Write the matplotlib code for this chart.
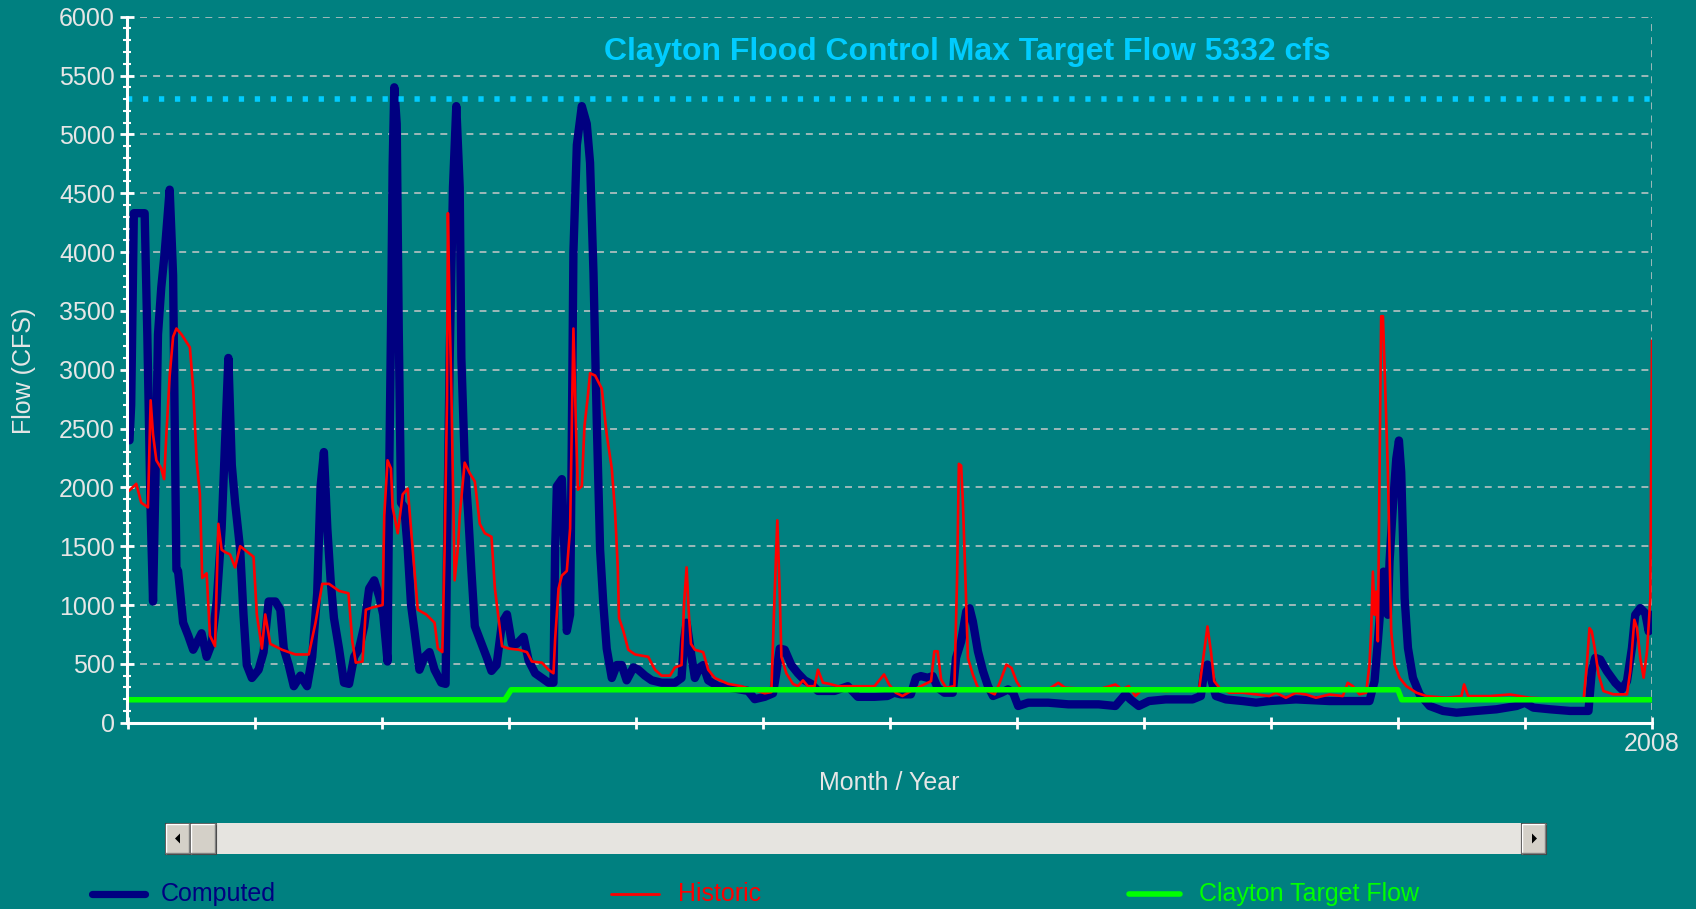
import matplotlib
matplotlib.use("Agg")
import matplotlib.pyplot as plt
from matplotlib.patches import Rectangle, Polygon
from matplotlib.ticker import MultipleLocator, FixedLocator

plt.rcParams['font.family'] = ['Liberation Sans', 'DejaVu Sans']
plt.rcParams['lines.scale_dashes'] = False

START_YEAR = 1996
MAX_TARGET = 5300   # dotted flood-control line as drawn

# Computed flow (years after START_YEAR, cfs)
comp_t = [
    0.016, 0.029, 0.050, 0.135, 0.156, 0.182, 0.201, 0.219, 0.240, 0.266,
    0.293, 0.332, 0.359, 0.372, 0.385, 0.398, 0.438, 0.478, 0.517, 0.583,
    0.623, 0.662, 0.702, 0.741, 0.794, 0.821, 0.847, 0.887, 0.913, 0.939,
    0.979, 1.032, 1.071, 1.111, 1.164, 1.203, 1.230, 1.269, 1.309, 1.361,
    1.414, 1.454, 1.493, 1.520, 1.546, 1.573, 1.599, 1.625, 1.665, 1.704,
    1.744, 1.784, 1.823, 1.863, 1.902, 1.942, 1.982, 2.013, 2.047, 2.061,
    2.074, 2.087, 2.100, 2.119, 2.135, 2.153, 2.179, 2.206, 2.232, 2.259,
    2.298, 2.338, 2.377, 2.417, 2.470, 2.504, 2.515, 2.536, 2.562, 2.588,
    2.615, 2.628, 2.654, 2.681, 2.707, 2.734, 2.773, 2.826, 2.865, 2.905,
    2.948, 2.987, 3.026, 3.065, 3.118, 3.157, 3.209, 3.262, 3.314, 3.353,
    3.366, 3.380, 3.419, 3.445, 3.458, 3.484, 3.497, 3.510, 3.537, 3.576,
    3.615, 3.641, 3.668, 3.694, 3.720, 3.746, 3.772, 3.812, 3.851, 3.890,
    3.929, 3.982, 4.021, 4.073, 4.126, 4.204, 4.309, 4.361, 4.382, 4.401,
    4.440, 4.466, 4.505, 4.531, 4.571, 4.649, 4.780, 4.885, 4.937, 5.016,
    5.081, 5.107, 5.134, 5.173, 5.225, 5.277, 5.330, 5.382, 5.435, 5.565,
    5.670, 5.749, 5.880,
    5.982, 6.034, 6.087, 6.166, 6.206, 6.245, 6.298, 6.338, 6.377, 6.430,
    6.496, 6.522, 6.562, 6.602, 6.628, 6.654, 6.694, 6.734, 6.773, 6.813,
    6.879, 6.931, 6.971, 7.011, 7.090, 7.248, 7.406, 7.644, 7.776, 7.855,
    7.894, 7.960, 8.040, 8.172, 8.383, 8.449, 8.475, 8.501, 8.541, 8.567,
    8.646, 8.778, 8.884,
    8.987, 9.197, 9.461, 9.776, 9.816, 9.842, 9.868, 9.887, 9.908, 9.921,
    9.934, 9.961, 9.987, 10.008, 10.026, 10.039, 10.053, 10.079, 10.118, 10.171,
    10.250, 10.355, 10.461, 10.618, 10.776, 10.934, 11.000, 11.066, 11.197, 11.355,
    11.500, 11.526, 11.553, 11.592, 11.645, 11.711, 11.763, 11.803, 11.842, 11.868,
    11.908, 11.947, 11.974, 12.000,
]
comp_cfs = [
    2400, 2700, 4330, 4330, 3300, 1800, 1030, 2000, 3300, 3700,
    4000, 4530, 3800, 2500, 1300, 1290, 850, 740, 620, 760,
    560, 670, 1030, 1650, 3100, 2190, 1870, 1470, 920, 490,
    380, 450, 600, 1030, 1030, 960, 630, 490, 310, 400,
    310, 560, 1100, 2010, 2300, 1650, 1210, 890, 630, 340,
    330, 560, 630, 820, 1140, 1210, 1070, 920, 520, 2190,
    3350, 4730, 5400, 5090, 3350, 1870, 1830, 1470, 1000, 780,
    450, 560, 600, 450, 340, 330, 1470, 3100, 4550, 5240,
    4550, 3100, 2230, 1790, 1290, 820, 710, 560, 440, 490,
    850, 920, 670, 670, 730, 530, 420, 380, 340, 340,
    1470, 2010, 2070, 1290, 780, 920, 2370, 4000, 4910, 5240,
    5090, 4760, 3820, 2550, 1470, 1000, 630, 380, 490, 490,
    360, 470, 450, 400, 360, 340, 340, 380, 710, 850,
    560, 380, 470, 490, 360, 310, 290, 270, 200, 220,
    250, 420, 630, 620, 490, 420, 360, 330, 270, 270,
    310, 220, 220,
    227, 255, 241, 241, 382, 396, 382, 396, 297, 255,
    255, 551, 691, 945, 973, 861, 607, 438, 311, 227,
    255, 283, 255, 142, 170, 170, 156, 156, 142, 241,
    198, 142, 184, 198, 198, 227, 438, 494, 325, 227,
    198, 184, 170,
    184, 198, 184, 184, 353, 692, 1058, 1284, 1199, 917,
    1369, 1848, 2243, 2398, 2130, 1622, 1058, 635, 382, 241,
    142, 100, 85, 100, 114, 142, 170, 128, 114, 100,
    100, 438, 551, 537, 438, 339, 283, 353, 635, 917,
    974, 931, 776, 917,
]

# Historic flow
hist_t = [
    0.016, 0.069, 0.108, 0.161, 0.182, 0.201, 0.227, 0.266, 0.288, 0.306,
    0.332, 0.359, 0.385, 0.425, 0.491, 0.517, 0.544, 0.570, 0.588, 0.623,
    0.649, 0.689, 0.715, 0.741, 0.768, 0.807, 0.847, 0.887, 0.992, 1.018,
    1.058, 1.084, 1.124, 1.216, 1.322, 1.427, 1.480, 1.533, 1.586, 1.665,
    1.739, 1.770, 1.797, 1.850, 1.876, 1.929, 2.008, 2.021, 2.047, 2.074,
    2.087, 2.127, 2.166, 2.206, 2.245, 2.285, 2.351, 2.417, 2.443, 2.478,
    2.496, 2.515, 2.522, 2.536, 2.549, 2.575, 2.602, 2.615, 2.654, 2.694,
    2.734, 2.773, 2.813, 2.865, 2.892,
    2.948, 3.000, 3.079, 3.144, 3.183, 3.262, 3.314, 3.353, 3.366, 3.393,
    3.419, 3.458, 3.484, 3.497, 3.510, 3.529, 3.545, 3.576, 3.597, 3.623,
    3.641, 3.681, 3.733, 3.772, 3.812, 3.838, 3.859, 3.869, 3.903, 3.942,
    3.995, 4.099, 4.152, 4.204, 4.270, 4.309, 4.361, 4.382, 4.401, 4.419,
    4.435, 4.466, 4.531, 4.571, 4.623, 4.728, 4.832, 5.016, 5.068, 5.094,
    5.115, 5.134, 5.147, 5.186, 5.238, 5.277, 5.317, 5.356, 5.408, 5.435,
    5.474, 5.526, 5.592, 5.880,
    5.955, 5.995, 6.047, 6.100, 6.166, 6.245, 6.325, 6.351, 6.377, 6.404,
    6.443, 6.509, 6.530, 6.544, 6.562, 6.575, 6.594, 6.615, 6.654, 6.694,
    6.747, 6.826, 6.865, 6.918, 6.958, 6.997, 7.037, 7.248, 7.327, 7.380,
    7.644, 7.776, 7.828, 7.881, 7.934, 7.987, 8.172, 8.435, 8.475, 8.501,
    8.528, 8.554, 8.594, 8.673, 8.778, 8.884,
    8.987, 9.039, 9.118, 9.197, 9.276, 9.355, 9.461, 9.566, 9.605, 9.645,
    9.697, 9.750, 9.776, 9.789, 9.803, 9.816, 9.829, 9.842, 9.855, 9.868,
    9.882, 9.895, 9.908, 9.921, 9.934, 9.947, 9.974, 10.013, 10.066, 10.145,
    10.224, 10.382, 10.500, 10.521, 10.553, 10.724, 10.882, 11.039, 11.303, 11.461,
    11.487, 11.508, 11.526, 11.553, 11.579, 11.618, 11.697, 11.803, 11.829, 11.861,
    11.882, 11.908, 11.934, 11.961, 11.987, 11.992, 12.000,
]
hist_cfs = [
    1975, 2030, 1870, 1830, 2740, 2450, 2230, 2160, 2070, 2450,
    2950, 3280, 3350, 3300, 3190, 2840, 2230, 1940, 1230, 1270,
    740, 650, 1690, 1470, 1450, 1430, 1320, 1500, 1410, 920,
    630, 920, 670, 620, 580, 580, 850, 1180, 1180, 1120,
    1100, 690, 510, 520, 960, 980, 1000, 1760, 2230, 2160,
    1830, 1610, 1940, 1990, 1470, 960, 920, 850, 630, 600,
    1470, 2740, 4330, 3460, 2840, 1210, 1500, 1760, 2210, 2120,
    2050, 1690, 1610, 1580, 1140,
    650, 630, 620, 600, 520, 510, 450, 420, 710, 1140,
    1250, 1290, 1650, 2480, 3350, 2550, 1980, 2010, 2520, 2770,
    2970, 2950, 2840, 2450, 2160, 1790, 1320, 890, 780, 620,
    580, 560, 450, 400, 400, 470, 490, 1030, 1320, 920,
    670, 620, 600, 450, 380, 330, 310, 250, 260, 1100,
    1720, 1100, 560, 420, 330, 310, 360, 310, 310, 450,
    340, 330, 310, 310,
    410, 325, 255, 227, 269, 311, 353, 607, 607, 368,
    297, 311, 1227, 2200, 2185, 1889, 1283, 551, 410, 297,
    283, 241, 339, 494, 466, 353, 283, 283, 339, 297,
    283, 325, 283, 311, 227, 283, 269, 283, 607, 818,
    607, 353, 297, 255, 255, 241,
    226, 255, 212, 255, 240, 212, 240, 226, 339, 311,
    241, 255, 494, 776, 1284, 917, 1115, 692, 2074, 3455,
    3455, 3004, 2581, 2130, 1453, 776, 494, 382, 311, 255,
    226, 212, 226, 325, 226, 226, 240, 212, 198, 184,
    494, 804, 776, 607, 410, 269, 241, 241, 438, 875,
    804, 551, 382, 607, 1058, 1989, 3244,
]

# Clayton target flow
target_t = [0.0, 2.97, 3.02, 10.0, 10.03, 12.0]
target_cfs = [195, 195, 280, 280, 195, 195]

assert len(comp_t) == len(comp_cfs)
assert len(hist_t) == len(hist_cfs)

BG = '#008080'
NAVY = '#000080'
RED = '#FF0000'
GREEN = '#00FF00'
SKY = '#00CCFF'
TXT = '#E6E6E6'

W, H = 1696, 909
fig = plt.figure(figsize=(W / 100, H / 100), dpi=100, facecolor=BG)
ax = fig.add_axes([127.5 / W, 1 - 722.7 / H, (1652 - 127.5) / W, (722.7 - 16.7) / H])
ax.set_facecolor(BG)

cx = [START_YEAR + t for t in comp_t]
hx = [START_YEAR + t for t in hist_t]
tx = [START_YEAR + t for t in target_t]

ax.plot(cx, comp_cfs, color=NAVY, lw=6.0, solid_joinstyle='round',
        solid_capstyle='round', zorder=3)
ax.plot(hx, hist_cfs, color=RED, lw=1.9, zorder=4)
ax.plot(tx, target_cfs, color=GREEN, lw=4.0, zorder=5)
ax.axhline(MAX_TARGET, color=SKY, lw=4.0, linestyle=(0, (3.8, 7.7)), zorder=6)

ax.set_xlim(START_YEAR, START_YEAR + 12)
ax.set_ylim(0, 6000)

ax.yaxis.set_major_locator(MultipleLocator(500))
ax.yaxis.set_minor_locator(MultipleLocator(100))
years = list(range(START_YEAR, START_YEAR + 13))
ax.xaxis.set_major_locator(FixedLocator(years))
ax.set_xticklabels(['' for y in years[:-1]] + [str(years[-1])])

ax.grid(axis='y', which='major', color='#C8C8C8', lw=1.1, linestyle=(0, (5, 4.4)))
ax.axvline(START_YEAR + 12, color='#C8C8C8', lw=1.1, linestyle=(0, (5, 4.4)))
ax.set_axisbelow(True)

for s in ('top', 'right'):
    ax.spines[s].set_visible(False)
for s in ('left', 'bottom'):
    ax.spines[s].set_color('white')
    ax.spines[s].set_linewidth(2.2)
    ax.spines[s].set_zorder(7)

ax.tick_params(axis='y', which='major', direction='inout', length=10, width=2,
               color='white', labelcolor=TXT, labelsize=18, pad=4)
ax.tick_params(axis='y', which='minor', direction='inout', length=6, width=1.5,
               color='white')
ax.tick_params(axis='x', which='major', direction='inout', length=8, width=2,
               color='white', labelcolor=TXT, labelsize=18, pad=3)

fig.text(967 / W, 1 - 52 / H, 'Clayton Flood Control Max Target Flow 5332 cfs',
         color=SKY, fontsize=23, fontweight='bold', ha='center', va='center')
fig.text(24 / W, 1 - 371 / H, 'Flow (CFS)', color=TXT, fontsize=18,
         rotation=90, ha='center', va='center')
fig.text(889 / W, 1 - 783 / H, 'Month / Year', color=TXT, fontsize=18,
         ha='center', va='center')

# overlay in pixel coordinates for the scroll bar and the legend
ui = fig.add_axes([0, 0, 1, 1])
ui.set_xlim(0, W)
ui.set_ylim(H, 0)
ui.axis('off')
ui.patch.set_visible(False)

y0, y1 = 823, 854
ui.add_patch(Rectangle((216, y0), 1521 - 216, y1 - y0, facecolor='#E6E4E0',
                       edgecolor='none'))


def button(x0, x1):
    ui.add_patch(Rectangle((x0, y0), x1 - x0, y1 - y0, facecolor='#D4D0C8',
                           edgecolor='#404040', lw=0.8))
    ui.plot([x0 + 1, x0 + 1, x1 - 1], [y1 - 1, y0 + 1, y0 + 1], color='white', lw=1)
    ui.plot([x0 + 1, x1 - 1.5, x1 - 1.5], [y1 - 1.5, y1 - 1.5, y0 + 1],
            color='#808080', lw=1)


button(165, 190)
button(190, 216)
button(1521, 1546)
ym = (y0 + y1) / 2
ui.add_patch(Polygon([(175, ym), (180, ym - 5), (180, ym + 5)], closed=True,
                     facecolor='black', edgecolor='none'))
ui.add_patch(Polygon([(1537, ym), (1532, ym - 5), (1532, ym + 5)], closed=True,
                     facecolor='black', edgecolor='none'))

ly = 894
legend = [
    ('Computed', NAVY, 5.2, 92, 145, 161),
    ('Historic', RED, 2.0, 611, 659, 678),
    ('Clayton Target Flow', GREEN, 4.0, 1129, 1180, 1199),
]
for label, col, lw, xa, xb, xt in legend:
    ui.plot([xa, xb], [ly, ly], color=col, lw=lw, solid_capstyle='round')
    ui.text(xt, ly, label, color=col, fontsize=18, ha='left', va='center')

fig.savefig('out.png', dpi=100, facecolor=BG)
